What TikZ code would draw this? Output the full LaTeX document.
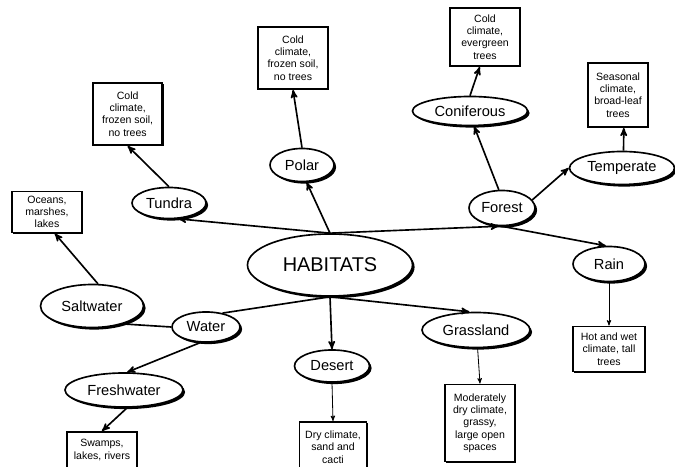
\documentclass[tikz,border=0pt]{standalone}
\usepackage{fontspec}
\setmainfont{Liberation Sans}
\usepackage{tikz}
\usetikzlibrary{shapes.geometric, shadows, arrows}
\tikzset{
->, % connectors are directed
>=stealth', % filled arrow heads
every edge/.style={draw, line width=1.4pt},
habitat/.style={ellipse, draw, line width=1.4pt, fill=white, inner sep=0pt,
  drop shadow={shadow xshift=1.8pt, shadow yshift=-1.8pt, fill=black, opacity=1}},
kind/.style={habitat, font=\fontsize{12.5}{14}\selectfont},
fact/.style={rectangle, draw, line width=1.6pt, fill=white, inner sep=0pt, align=center,
  font=\fontsize{9}{10.5}\selectfont,
  drop shadow={shadow xshift=1.2pt, shadow yshift=-1.2pt, fill=black, opacity=1}},
thinline/.style={line width=0.7pt},
}
\begin{document}
\begin{tikzpicture}
\useasboundingbox (0,0) rectangle (20.25,14.01);
% centre
\node[habitat, font=\fontsize{17}{19}\selectfont, minimum width=4.95cm, minimum height=1.86cm] (hab) at (9.90,6.06) {HABITATS};
% habitats
\node[kind, minimum width=2.22cm, minimum height=0.93cm] (tundra) at (5.07,7.92) {Tundra};
\node[kind, minimum width=1.92cm, minimum height=0.99cm] (polar) at (9.06,9.06) {Polar};
\node[kind, minimum width=1.98cm, minimum height=1.05cm] (forest) at (15.06,7.77) {Forest};
\node[kind, minimum width=3.45cm, minimum height=0.87cm] (conif) at (14.10,10.68) {Coniferous};
\node[kind, minimum width=3.15cm, minimum height=0.99cm] (temper) at (18.66,8.97) {Temperate};
\node[kind, minimum width=2.16cm, minimum height=1.05cm] (rain) at (18.27,6.09) {Rain};
\node[kind, minimum width=3.24cm, minimum height=1.05cm] (grass) at (14.28,4.11) {Grassland};
\node[kind, minimum width=2.25cm, minimum height=0.96cm] (desert) at (9.96,3.03) {Desert};
\node[kind, minimum width=2.04cm, minimum height=0.90cm] (water) at (6.18,4.20) {Water};
\node[kind, minimum width=3.09cm, minimum height=1.29cm] (salt) at (2.76,4.83) {Saltwater};
\node[kind, minimum width=3.54cm, minimum height=1.02cm] (fresh) at (3.72,2.31) {Freshwater};
% descriptions
\node[fact, minimum width=2.07cm, minimum height=1.86cm] (tundra_box) at (3.83,10.59) {Cold\\climate,\\frozen soil,\\no trees};
\node[fact, minimum width=2.10cm, minimum height=1.86cm] (polar_box) at (8.79,12.27) {Cold\\climate,\\frozen soil,\\no trees};
\node[fact, minimum width=2.10cm, minimum height=1.74cm] (conif_box) at (14.55,12.90) {Cold\\climate,\\evergreen\\trees};
\node[fact, minimum width=1.80cm, minimum height=1.92cm] (temper_box) at (18.54,11.16) {Seasonal\\climate,\\broad-leaf\\trees};
\node[fact, minimum width=2.16cm, minimum height=1.35cm] (rain_box) at (18.27,3.54) {Hot and wet\\climate, tall\\trees};
\node[fact, minimum width=2.10cm, minimum height=2.31cm] (grass_box) at (14.40,1.32) {Moderately\\dry climate,\\grassy,\\large open\\spaces};
\node[fact, minimum width=2.01cm, minimum height=1.50cm] (desert_box) at (9.99,0.60) {Dry climate,\\sand and\\cacti};
\node[fact, minimum width=2.10cm, minimum height=1.23cm] (salt_box) at (1.41,7.65) {Oceans,\\marshes,\\lakes};
\node[fact, minimum width=2.10cm, minimum height=1.08cm] (fresh_box) at (3.06,0.51) {Swamps,\\lakes, rivers};
\path
    (hab.north) edge (tundra.-60)
    (hab.north) edge (polar.-75)
    (hab.north) edge (forest.-100)
    (forest.-90) edge (rain.100)
    (hab.south) edge[-] (water.40)
    (hab.south) edge (desert.north)
    (hab.south) edge (grass.110)
    %
    (water.west) edge[-] (salt.-30)
    (water.-110) edge (fresh.80)
    (salt.75) edge (salt_box.-70)
    (fresh.-80) edge (fresh_box.north)
    (tundra.north) edge (tundra_box.south)
    (polar.north) edge (polar_box.south)
    (forest.100) edge (conif.-75)
    (conif.north) edge (conif_box.-100)
    (forest.15) edge (temper.west)
    (temper.85) edge (temper_box.-80)
    (rain.south) edge[thinline] (rain_box.north)
    (grass.-85) edge[thinline] (grass_box.north)
    (desert.south) edge[thinline] (desert_box.north);
\end{tikzpicture}
\end{document}
